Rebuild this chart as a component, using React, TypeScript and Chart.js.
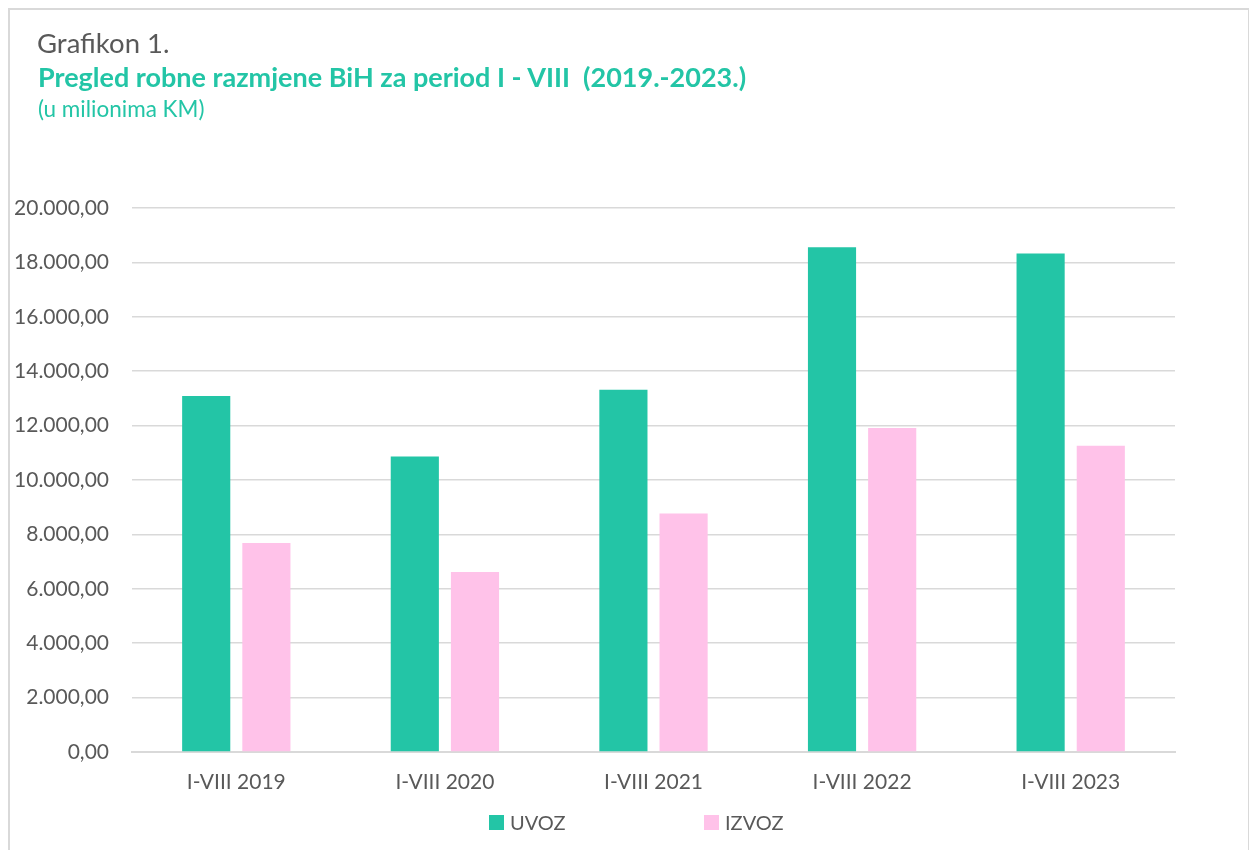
import React, { useEffect, useRef } from "react";
import { Chart, registerables } from "chart.js";

Chart.register(...registerables);

const categories: string[] = ["I-VIII 2019", "I-VIII 2020", "I-VIII 2021", "I-VIII 2022", "I-VIII 2023"];
const uvoz: number[] = [13085, 10865, 13320, 18560, 18330];
const izvoz: number[] = [7687, 6618, 8766, 11908, 11260];
const seriesNames: string[] = ["UVOZ", "IZVOZ"];
const yMin = 0;
const yMax = 20000;
const yStep = 2000;

const chartLabel = "Grafikon 1.";
const titleText = "Pregled robne razmjene BiH za period I - VIII  (2019.-2023.)";
const subtitleText = "(u milionima KM)";

const TEAL = "#23C5A6";
const PINK = "#FFC2E9";
const TEXT = "#595959";
const GRID = "#d9d9d9";
const FONT = "Lato, 'Open Sans', sans-serif";

function formatNum(v: number): string {
  const fixed = Math.abs(v).toFixed(2);
  const [intPart, dec] = fixed.split(".");
  const withDots = intPart.replace(/\B(?=(\d{3})+(?!\d))/g, ".");
  return (v < 0 ? "-" : "") + withDots + "," + dec;
}

export default function App() {
  const canvasRef = useRef<HTMLCanvasElement | null>(null);

  useEffect(() => {
    if (!canvasRef.current) return;
    const chart = new Chart(canvasRef.current, {
      type: "bar",
      data: {
        labels: categories,
        datasets: [
          {
            label: seriesNames[0],
            data: uvoz,
            backgroundColor: TEAL,
            categoryPercentage: 0.577,
            barPercentage: 0.8,
          },
          {
            label: seriesNames[1],
            data: izvoz,
            backgroundColor: PINK,
            categoryPercentage: 0.577,
            barPercentage: 0.8,
          },
        ],
      },
      options: {
        animation: false,
        responsive: false,
        devicePixelRatio: 1,
        layout: { padding: { left: 14, right: 74, top: 208, bottom: 0 } },
        plugins: {
          legend: { display: false },
          tooltip: { enabled: false },
          title: { display: false },
        },
        scales: {
          x: {
            grid: { display: false, drawTicks: false },
            border: { display: true, color: GRID, width: 2 },
            ticks: {
              color: TEXT,
              font: { family: FONT, size: 21 },
              padding: 18,
              maxRotation: 0,
            },
            afterFit: (scale: any) => {
              scale.height = 98;
            },
          },
          y: {
            min: yMin,
            max: yMax,
            grid: { color: GRID, lineWidth: 1.5, drawTicks: false },
            border: { display: false },
            ticks: {
              stepSize: yStep,
              color: TEXT,
              font: { family: FONT, size: 21 },
              padding: 23,
              callback: (v: any) => formatNum(Number(v)),
            },
            afterFit: (scale: any) => {
              scale.width = 118;
            },
          },
        },
      },
    });
    return () => chart.destroy();
  }, []);

  const legendItems = [
    { name: seriesNames[0], color: TEAL, left: 489 },
    { name: seriesNames[1], color: PINK, left: 704 },
  ];

  return (
    <div
      style={{
        position: "absolute",
        left: 0,
        top: 0,
        width: 1249,
        height: 850,
        overflow: "hidden",
        background: "#fff",
        fontFamily: FONT,
      }}
    >
      <div
        style={{
          position: "absolute",
          left: 8,
          top: 8,
          width: 1238,
          height: 900,
          border: `2px solid ${GRID}`,
        }}
      />
      <canvas
        ref={canvasRef}
        width={1249}
        height={850}
        style={{ position: "absolute", left: 0, top: 0, width: 1249, height: 850 }}
      />
      <div
        style={{
          position: "absolute",
          left: 37,
          top: 29,
          fontSize: 27.5,
          lineHeight: 1,
          color: TEXT,
          whiteSpace: "pre",
        }}
      >
        {chartLabel}
      </div>
      <div
        style={{
          position: "absolute",
          left: 38,
          top: 63,
          fontSize: 27,
          lineHeight: 1,
          fontWeight: 700,
          color: TEAL,
          whiteSpace: "pre",
        }}
      >
        {titleText}
      </div>
      <div
        style={{
          position: "absolute",
          left: 38,
          top: 98,
          fontSize: 22.5,
          lineHeight: 1,
          color: TEAL,
          whiteSpace: "pre",
        }}
      >
        {subtitleText}
      </div>
      {legendItems.map((it) => (
        <div
          key={it.name}
          style={{
            position: "absolute",
            left: it.left,
            top: 810,
            height: 24,
            display: "flex",
            alignItems: "center",
            fontSize: 20,
            color: TEXT,
            whiteSpace: "pre",
          }}
        >
          <span
            style={{
              display: "inline-block",
              width: 15,
              height: 15,
              background: it.color,
              marginRight: 6,
            }}
          />
          <span>{it.name}</span>
        </div>
      ))}
    </div>
  );
}
